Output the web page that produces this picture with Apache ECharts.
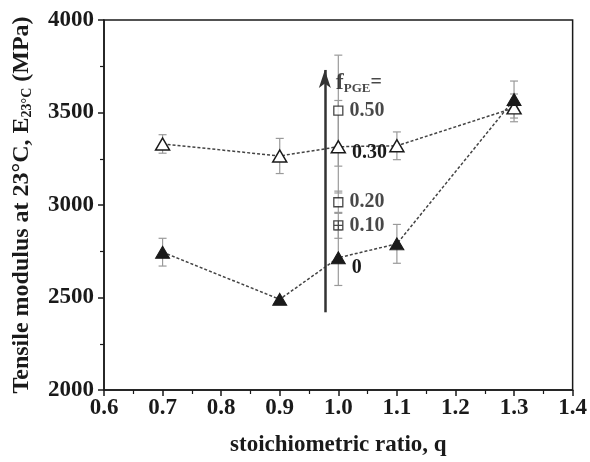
<!DOCTYPE html>
<html>
<head>
<meta charset="utf-8">
<script src="https://cdn.jsdelivr.net/npm/echarts@6/dist/echarts.min.js"></script>
<style>
  html, body { margin: 0; padding: 0; background: #fff; }
  #chart { width: 590px; height: 462px; }
</style>
</head>
<body>
<div id="chart"></div>
<script>
// Stoichiometric ratio q
const q = [0.7, 0.9, 1.0, 1.1, 1.3];
// Tensile modulus (MPa) with standard deviation, f_PGE = 0.30 (open triangles)
const modulusF030 = [3330, 3265, 3315, 3320, 3525];
const errF030 = [50, 95, 250, 75, 75];
// Tensile modulus (MPa) with standard deviation, f_PGE = 0 (filled triangles)
const modulusF0 = [2745, 2490, 2715, 2790, 3570];
const errF0 = [75, 10, 150, 105, 100];
// Extra compositions measured only at q = 1.0 (squares)
const squareFractions = ['0.50', '0.20', '0.10'];
const squareModulus = [3510, 3015, 2890];
const squareErr = [300, 60, 70];
// Axis ticks
const xTicks = [0.6, 0.7, 0.8, 0.9, 1.0, 1.1, 1.2, 1.3, 1.4];
const yTicks = [2000, 2500, 3000, 3500, 4000];
// Arrow indicating increasing f_PGE
const arrowQ = 0.977;
const arrowSpan = [2420, 3730];
const fLabelPoint = [0.987, 3660];

const SERIF = '"Liberation Serif", "DejaVu Serif", serif';
const INK = '#1a1a1a';

function errorRows(xs, ys, es) {
  return xs.map((x, i) => [x, ys[i] - es[i], ys[i] + es[i]]);
}

const errData = []
  .concat(errorRows(q, modulusF030, errF030))
  .concat(errorRows(q, modulusF0, errF0))
  .concat(errorRows(squareFractions.map(() => 1.0), squareModulus, squareErr));

function renderErrorBar(params, api) {
  const x = api.value(0);
  const lo = api.coord([x, api.value(1)]);
  const hi = api.coord([x, api.value(2)]);
  const w = 4;
  const style = { stroke: '#9a9a9a', lineWidth: 1.2, fill: null };
  return {
    type: 'group',
    children: [
      { type: 'line', shape: { x1: lo[0], y1: lo[1], x2: hi[0], y2: hi[1] }, style },
      { type: 'line', shape: { x1: lo[0] - w, y1: lo[1], x2: lo[0] + w, y2: lo[1] }, style },
      { type: 'line', shape: { x1: hi[0] - w, y1: hi[1], x2: hi[0] + w, y2: hi[1] }, style }
    ]
  };
}

const labelStyle = {
  show: true,
  position: 'right',
  fontFamily: SERIF,
  fontWeight: 'bold',
  fontSize: 20,
  color: INK
};

function pointsWithLabel(xs, ys, idx, text, offset) {
  return xs.map((x, i) => {
    if (i !== idx) return [x, ys[i]];
    return {
      value: [x, ys[i]],
      label: Object.assign({}, labelStyle, { formatter: text, offset: offset })
    };
  });
}

const squareSymbols = ['rect', 'rect', 'path://M0,0H10V10H0Z M5,0V10 M0,5H10'];

const chart = echarts.init(document.getElementById('chart'), null, { renderer: 'canvas' });

chart.setOption({
  animation: false,
  backgroundColor: '#fff',
  grid: {
    left: 104, right: 15, top: 20, bottom: 69,
    show: true, borderColor: INK, borderWidth: 1.5, backgroundColor: 'transparent'
  },
  xAxis: {
    type: 'value',
    min: xTicks[0], max: xTicks[xTicks.length - 1], interval: 0.1,
    name: 'stoichiometric ratio, q',
    nameLocation: 'middle', nameGap: 44,
    nameTextStyle: { fontFamily: SERIF, fontWeight: 'bold', fontSize: 23, color: INK },
    axisLine: { show: true, lineStyle: { color: INK, width: 1.5 } },
    axisTick: { show: true, inside: false, length: 6, lineStyle: { color: INK, width: 1.5 } },
    minorTick: { show: true, splitNumber: 2, length: 4, lineStyle: { color: INK, width: 1.2 } },
    splitLine: { show: false },
    minorSplitLine: { show: false },
    axisLabel: {
      fontFamily: SERIF, fontWeight: 'bold', fontSize: 23, color: INK, margin: 7,
      formatter: v => v.toFixed(1)
    }
  },
  yAxis: {
    type: 'value',
    min: yTicks[0], max: yTicks[yTicks.length - 1], interval: 500,
    name: '{m|Tensile modulus at 23°C, E}{s|23°C}{m| (MPa)}',
    nameLocation: 'middle', nameGap: 70, nameRotate: 90,
    nameTextStyle: {
      rich: {
        m: { fontFamily: SERIF, fontWeight: 'bold', fontSize: 24, color: INK },
        s: { fontFamily: SERIF, fontWeight: 'bold', fontSize: 14, color: INK, verticalAlign: 'bottom', padding: [10, 0, 0, 0] }
      }
    },
    axisLine: { show: true, lineStyle: { color: INK, width: 1.5 } },
    axisTick: { show: true, inside: false, length: 6, lineStyle: { color: INK, width: 1.5 } },
    minorTick: { show: true, splitNumber: 2, length: 4, lineStyle: { color: INK, width: 1.2 } },
    splitLine: { show: false },
    minorSplitLine: { show: false },
    axisLabel: {
      fontFamily: SERIF, fontWeight: 'bold', fontSize: 23, color: INK, margin: 10,
      formatter: v => String(v)
    }
  },
  series: [
    {
      name: 'error bars',
      type: 'custom',
      renderItem: renderErrorBar,
      data: errData,
      encode: { x: 0, y: [1, 2] },
      z: 1,
      silent: true
    },
    {
      name: 'fPGE = 0.30',
      type: 'line',
      data: pointsWithLabel(q, modulusF030, 2, '0.30', [1, 6]),
      symbol: 'triangle',
      symbolSize: [14, 12],
      itemStyle: { color: '#fff', borderColor: INK, borderWidth: 1.5 },
      lineStyle: { color: '#444', width: 1.5, type: [3, 2] },
      z: 3
    },
    {
      name: 'fPGE = 0',
      type: 'line',
      data: pointsWithLabel(q, modulusF0, 2, '0', [1, 10]),
      symbol: 'triangle',
      symbolSize: [14, 12],
      itemStyle: { color: INK, borderColor: INK, borderWidth: 1 },
      lineStyle: { color: '#444', width: 1.5, type: [3, 2] },
      z: 4
    },
    {
      name: 'fPGE squares',
      type: 'scatter',
      data: squareFractions.map((f, i) => ({
        value: [1.0, squareModulus[i]],
        symbol: squareSymbols[i],
        label: Object.assign({}, labelStyle, { formatter: f, offset: [1, 0] })
      })),
      symbolSize: 9,
      itemStyle: { color: '#fff', borderColor: INK, borderWidth: 1.3 },
      z: 3
    },
    {
      name: 'fPGE arrow',
      type: 'scatter',
      data: [{
        value: fLabelPoint,
        label: {
          show: true,
          position: 'right',
          formatter: '{f|f}{s|PGE}{e|=}',
          rich: {
            f: { fontFamily: SERIF, fontWeight: 'bold', fontSize: 24, color: INK },
            s: { fontFamily: SERIF, fontWeight: 'bold', fontSize: 13, color: INK, verticalAlign: 'bottom', padding: [11, 0, 0, 0] },
            e: { fontFamily: SERIF, fontWeight: 'bold', fontSize: 20, color: INK }
          }
        }
      }],
      symbolSize: 0,
      silent: true,
      markLine: {
        silent: true,
        symbol: ['none', 'arrow'],
        symbolSize: [9, 18],
        label: { show: false },
        lineStyle: { color: '#333', width: 2.5, type: 'solid' },
        data: [[{ coord: [arrowQ, arrowSpan[0]] }, { coord: [arrowQ, arrowSpan[1]] }]]
      },
      z: 2
    }
  ]
});
</script>
</body>
</html>
